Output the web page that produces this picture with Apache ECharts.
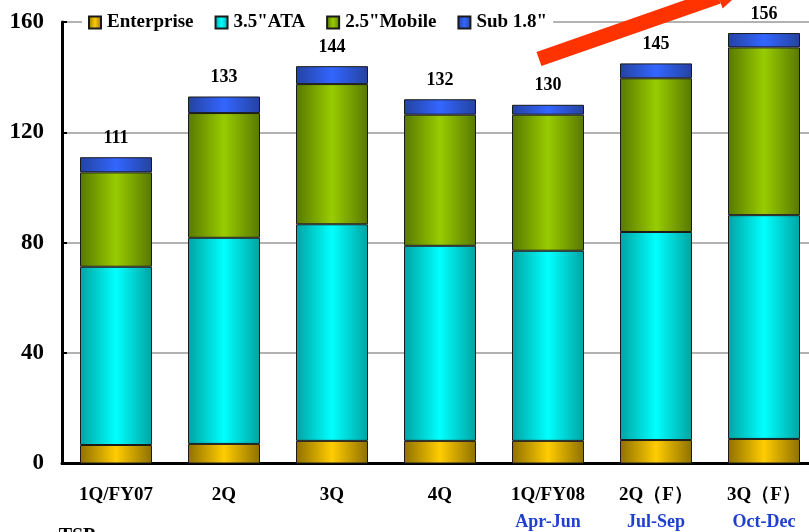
<!DOCTYPE html>
<html>
<head>
<meta charset="utf-8">
<script src="https://cdn.jsdelivr.net/npm/echarts@6/dist/echarts.min.js"></script>
<style>html,body{margin:0;padding:0;background:#fff}#c{width:809px;height:532px}</style>
</head>
<body>
<div id="c"></div>
<script>
const categories = ['1Q/FY07', '2Q', '3Q', '4Q', '1Q/FY08', '2Q\uFF08F\uFF09', '3Q\uFF08F\uFF09'];
const subLabels = ['', '', '', '', 'Apr-Jun', 'Jul-Sep', 'Oct-Dec'];
const enterprise = [6.7, 7.1, 8.2, 8.2, 8.2, 8.5, 8.9];
const ata35 = [64.6, 74.7, 78.5, 70.7, 68.9, 75.4, 81.1];
const mobile25 = [34.2, 45.2, 50.8, 47.5, 49.3, 55.7, 60.8];
const sub18 = [5.5, 6.0, 6.5, 5.6, 3.6, 5.4, 5.2];
const totals = [111, 133, 144, 132, 130, 145, 156];
const yTicks = { min: 0, max: 160, interval: 40 };

const FONT = '"Liberation Serif", "Times New Roman", serif';
function grad(edge, center) {
  return new echarts.graphic.LinearGradient(0, 0, 1, 0, [
    { offset: 0, color: edge },
    { offset: 0.5, color: center },
    { offset: 1, color: edge }
  ]);
}
function barSeries(name, data, edge, center, extra) {
  return Object.assign({
    name: name,
    type: 'bar',
    stack: 'total',
    data: data,
    barWidth: 72,
    itemStyle: { color: grad(edge, center), borderColor: '#1a1a1a', borderWidth: 1 },
    emphasis: { disabled: true }
  }, extra || {});
}

const chart = echarts.init(document.getElementById('c'));

// arrow geometry (decorative annotation)
const ax0 = 539, ay0 = 59, dx = 0.944, dy = -0.330, px = 0.330, py = 0.944;
const L = 190, hw = 7.5, hh = 13, hl = 30;
const bx = ax0 + dx * L, by = ay0 + dy * L;
const arrowBand = [
  [ax0 - px * hw, ay0 - py * hw], [bx - px * hw, by - py * hw],
  [bx + px * hw, by + py * hw], [ax0 + px * hw, ay0 + py * hw]
];
const arrowHead = [
  [bx - px * hh, by - py * hh], [bx + dx * hl, by + dy * hl], [bx + px * hh, by + py * hh]
];

chart.setOption({
  animation: false,
  backgroundColor: '#fff',
  grid: { left: 62, right: -9, top: 22, bottom: 68.5, containLabel: false, outerBoundsMode: 'none' },
  legend: {
    left: 82, top: 11,
    padding: [2, 6, 2, 6],
    backgroundColor: '#fff',
    itemWidth: 12, itemHeight: 12, itemGap: 21,
    icon: 'rect',
    textStyle: { fontFamily: FONT, fontWeight: 'bold', fontSize: 19, color: '#000', padding: [0, 0, 0, 1] },
    data: ['Enterprise', '3.5"ATA', '2.5"Mobile', 'Sub 1.8"']
  },
  xAxis: {
    type: 'category',
    data: categories,
    axisLine: { lineStyle: { color: '#000', width: 3 } },
    axisTick: { inside: true, length: 5, lineStyle: { color: '#000', width: 2 } },
    axisLabel: {
      margin: 19,
      interval: 0,
      hideOverlap: false,
      formatter: function (v, i) {
        return subLabels[i] ? '{a|' + v + '}\n{b|' + subLabels[i] + '}' : '{a|' + v + '}';
      },
      rich: {
        a: { fontFamily: FONT, fontWeight: 'bold', fontSize: 19, color: '#000', lineHeight: 26 },
        b: { fontFamily: FONT, fontWeight: 'bold', fontSize: 18, color: '#1f3fd0', lineHeight: 28 }
      }
    }
  },
  yAxis: {
    type: 'value',
    min: yTicks.min, max: yTicks.max, interval: yTicks.interval,
    axisLine: { show: true, lineStyle: { color: '#000', width: 3 } },
    axisTick: { show: true, inside: true, length: 5, lineStyle: { color: '#000', width: 2 } },
    axisLabel: { margin: 18, fontFamily: FONT, fontWeight: 'bold', fontSize: 23, color: '#000' },
    splitLine: { show: true, lineStyle: { color: '#999', width: 1.5 } }
  },
  series: [
    barSeries('Enterprise', enterprise, '#8f7000', '#ffcc00'),
    barSeries('3.5"ATA', ata35, '#00a3a3', '#00ffff'),
    barSeries('2.5"Mobile', mobile25, '#587800', '#99cc00'),
    barSeries('Sub 1.8"', sub18, '#2442a0', '#3366ff', {
      label: {
        show: true, position: 'top', distance: 10,
        fontFamily: FONT, fontWeight: 'bold', fontSize: 18, color: '#000',
        formatter: function (p) { return String(totals[p.dataIndex]); }
      }
    })
  ],
  graphic: [
    { type: 'polygon', shape: { points: arrowBand }, style: { fill: '#ff3300' }, z: 100 },
    { type: 'polygon', shape: { points: arrowHead }, style: { fill: '#ff3300' }, z: 100 },
    { type: 'text', left: 52, top: 527, style: { text: ':TSP', font: 'bold 20px ' + FONT, fill: '#000' }, z: 100 }
  ]
});
</script>
</body>
</html>
